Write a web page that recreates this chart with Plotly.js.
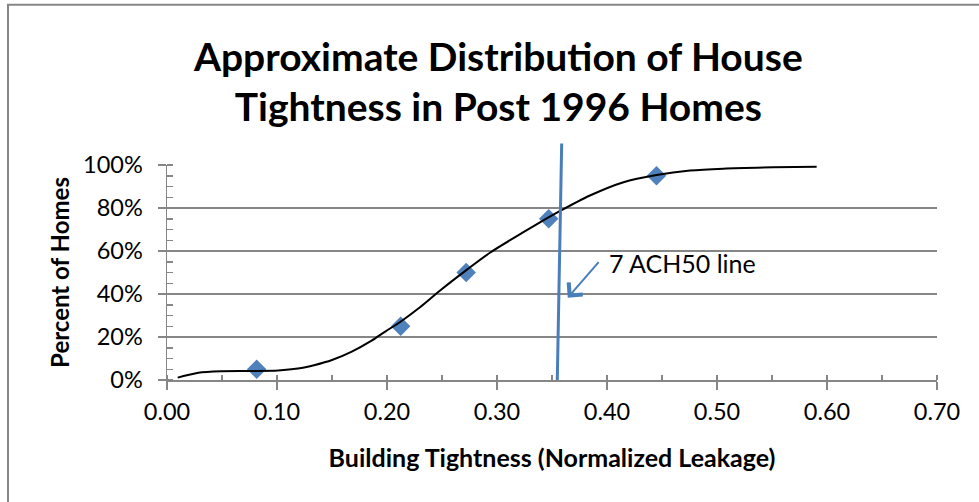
<!DOCTYPE html>
<html><head><meta charset="utf-8">
<script src="https://cdn.plot.ly/plotly-3.0.1.min.js"></script>
<style>html,body{margin:0;padding:0;background:#fff;} #chart{width:979px;height:502px;}</style>
</head><body><div id="chart"></div>
<script>
// Observed data points (diamonds)
const pointX = [0.0815, 0.2124, 0.272, 0.347, 0.445];
const pointY = [0.05, 0.25, 0.50, 0.75, 0.95];
// Fitted smooth curve
const curveX = [0.0097, 0.0285, 0.0497, 0.074, 0.101, 0.119, 0.1345, 0.150, 0.168, 0.186, 0.198, 0.212, 0.230, 0.248, 0.2724, 0.2936, 0.315, 0.336, 0.357, 0.3845, 0.415, 0.445, 0.4755, 0.5057, 0.551, 0.5906];
const curveY = [0.011, 0.034, 0.041, 0.042, 0.044, 0.053, 0.070, 0.093, 0.132, 0.183, 0.224, 0.270, 0.338, 0.415, 0.512, 0.592, 0.660, 0.724, 0.785, 0.858, 0.920, 0.953, 0.974, 0.983, 0.989, 0.992];
// 7 ACH50 vertical line (x in leakage, y in fraction of axis height)
const ach50X = [0.3548, 0.3588];
const ach50Y = [0.0, 1.10];
// Arrow from label to line
const arrowTail = [0.3936, 0.555];
const arrowTip = [0.3643, 0.383];
const labelPos = [0.400, 0.545];
const labelText = '7 ACH50 line';
// Ticks
const xTickVals = [0, 0.1, 0.2, 0.3, 0.4, 0.5, 0.6, 0.7];
const xTickText = ['0.00', '0.10', '0.20', '0.30', '0.40', '0.50', '0.60', '0.70'];
const yTickVals = [0, 0.2, 0.4, 0.6, 0.8, 1.0];
const yTickText = ['0%', '20%', '40%', '60%', '80%', '100%'];

const FONT = 'Lato, "Open Sans", sans-serif';
const GRAY = '#868686';
const BLUE = '#4A7EBB';

const traces = [
  {x: pointX, y: pointY, type: 'scatter', mode: 'markers',
   marker: {symbol: 'diamond', size: 15, color: '#4F81BD'}, hoverinfo: 'skip', cliponaxis: false},
  {x: curveX, y: curveY, type: 'scatter', mode: 'lines',
   line: {color: '#000000', width: 2, shape: 'spline', smoothing: 0.8}, hoverinfo: 'skip'}
];

const layout = {
  width: 979, height: 502,
  margin: {l: 167, r: 42, t: 165, b: 122},
  paper_bgcolor: '#ffffff', plot_bgcolor: '#ffffff',
  showlegend: false,
  font: {family: FONT, color: '#000000'},
  title: {
    text: 'Approximate Distribution of House<br>Tightness in Post 1996 Homes',
    x: 0.509, xanchor: 'center', y: 0.859, yanchor: 'middle',
    font: {family: FONT, size: 39, weight: 'bold', color: '#000000'}
  },
  xaxis: {
    range: [0, 0.7], tickmode: 'array', tickvals: xTickVals, ticktext: xTickText,
    ticks: 'outside', ticklen: 8, tickwidth: 1.5, tickcolor: GRAY,
    showline: true, linecolor: GRAY, linewidth: 1.5, showgrid: false, zeroline: false,
    minor: {tick0: 0, dtick: 0.05, ticks: 'inside', ticklen: 5, tickwidth: 1.5, tickcolor: GRAY, showgrid: false},
    tickfont: {family: FONT, size: 23.5, color: '#000000'},
    ticklabelstandoff: 2,
    title: {text: 'Building Tightness (Normalized Leakage)', standoff: 26,
            font: {family: FONT, size: 25, weight: 'bold', color: '#000000'}},
    fixedrange: true
  },
  yaxis: {
    range: [0, 1], tickmode: 'array', tickvals: yTickVals, ticktext: yTickText,
    ticks: 'outside', ticklen: 8, tickwidth: 1.5, tickcolor: GRAY,
    showline: true, linecolor: GRAY, linewidth: 1.5,
    showgrid: true, gridcolor: GRAY, gridwidth: 1.5, zeroline: false,
    minor: {tick0: 0, dtick: 0.05, ticks: 'inside', ticklen: 6, tickwidth: 1.5, tickcolor: GRAY, showgrid: false},
    tickfont: {family: FONT, size: 23.5, color: '#000000'},
    ticklabelstandoff: 10,
    title: {text: 'Percent of Homes', standoff: 6,
            font: {family: FONT, size: 24, weight: 'bold', color: '#000000'}},
    fixedrange: true
  },
  shapes: [
    {type: 'line', xref: 'x', yref: 'y domain',
     x0: ach50X[0], y0: ach50Y[0], x1: ach50X[1], y1: ach50Y[1],
     line: {color: BLUE, width: 3}},
    {type: 'rect', xref: 'paper', yref: 'paper',
     x0: -0.2065, y0: -0.8, x1: 1.2, y1: 1.745,
     line: {color: GRAY, width: 2}, fillcolor: 'rgba(0,0,0,0)', layer: 'below'}
  ],
  annotations: [
    {x: arrowTip[0], y: arrowTip[1], ax: arrowTail[0], ay: arrowTail[1],
     xref: 'x', yref: 'y', axref: 'x', ayref: 'y', text: '', showarrow: true,
     arrowhead: 4, arrowsize: 1.8, arrowwidth: 2, arrowcolor: BLUE, standoff: 0, startstandoff: 0},
    {x: labelPos[0], y: labelPos[1], xref: 'x', yref: 'y', text: labelText,
     showarrow: false, xanchor: 'left', yanchor: 'middle',
     font: {family: FONT, size: 25, color: '#000000'}}
  ]
};

Plotly.newPlot('chart', traces, layout, {displayModeBar: false, staticPlot: true});
</script>
</body></html>
